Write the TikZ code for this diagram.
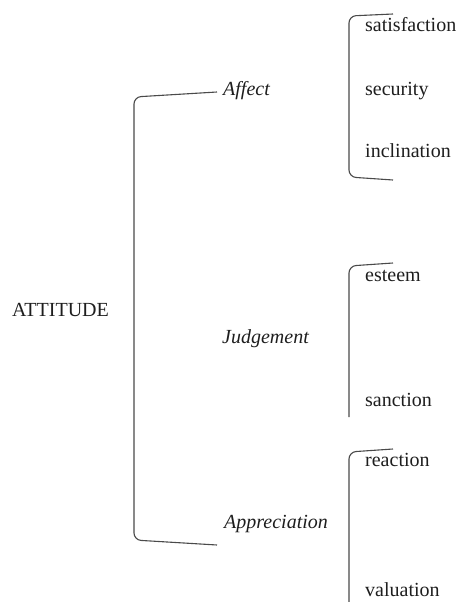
\documentclass[tikz,border=0pt]{standalone}
\usepackage{fontspec}
\setmainfont{Liberation Serif}
\usetikzlibrary{positioning}
\definecolor{ink}{HTML}{1E1E1E}
\definecolor{brace}{HTML}{4A4A4A}
\tikzset{
  every node/.style={font=\fontsize{20}{24}\selectfont,text=ink,inner sep=0pt,anchor=base west},
  root/.style={},
  cat/.style={font=\fontsize{20}{24}\selectfont\itshape},
  term/.style={},
  bracket/.style={draw=brace,line width=1.1pt,rounded corners=7pt},
}

\begin{document}
\begin{tikzpicture}[x=1pt,y=-1pt]
\useasboundingbox (0,0) rectangle (457,602);

% root
\node[root] (attitude) at (12,316) {ATTITUDE};

% categories
\node[cat] (affect) at (223,95) {Affect};
\node[cat] (judgement) at (222,343) {Judgement};
\node[cat] (appreciation) at (224,528) {Appreciation};

% affect terms
\node[term] (satisfaction) at (365,32) {satisfaction};
\node[term] (security) at (365,95) {security};
\node[term] (inclination) at (365,157) {inclination};

% judgement terms
\node[term] (esteem) at (365,281) {esteem};
\node[term] (sanction) at (365,406) {sanction};

% appreciation terms
\node[term] (reaction) at (365,466) {reaction};
\node[term] (valuation) at (365,596) {valuation};

% bracket ends
\coordinate (b0t) at (217,92);
\coordinate (b0b) at (217,545);
\coordinate (b1t) at (393,14);
\coordinate (b1b) at (393,180);
\coordinate (b2t) at (393,263);
\coordinate (b3t) at (393,449);

\draw[bracket] (b0t) -- (134,97) -- (134,540) -- (b0b);
\draw[bracket] (b1t) -- (349,16) -- (349,177) -- (b1b);
\draw[bracket] (b2t) -- (349,266) -- (349,417);
\draw[bracket] (b3t) -- (349,452) -- (349,602);

\end{tikzpicture}
\end{document}
